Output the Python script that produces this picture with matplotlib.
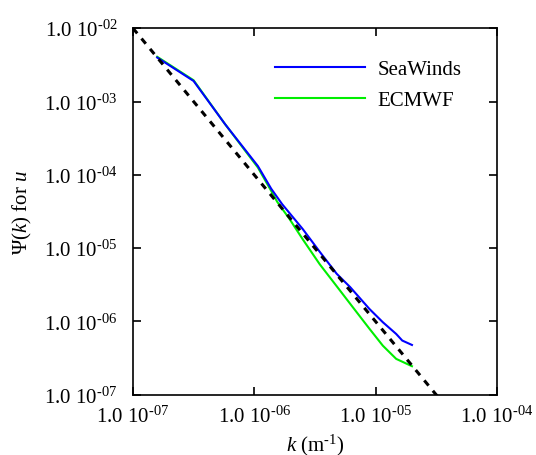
import numpy as np
import matplotlib
matplotlib.use("Agg")
import matplotlib.pyplot as plt

plt.rcParams["font.family"] = "Liberation Serif"
plt.rcParams["mathtext.fontset"] = "custom"
plt.rcParams["mathtext.rm"] = "Liberation Serif"
plt.rcParams["mathtext.it"] = "Liberation Serif:italic"

# log10 of wavenumber and spectrum
sw_logk = [-6.80, -6.50, -6.24, -5.97, -5.86, -5.77, -5.60, -5.46, -5.32,
           -5.21, -5.05, -4.94, -4.83, -4.78, -4.70]
sw_logpsi = [-2.40, -2.72, -3.31, -3.88, -4.19, -4.40, -4.74, -5.05, -5.35,
             -5.53, -5.83, -6.01, -6.17, -6.26, -6.32]

ec_logk = [-6.80, -6.50, -6.24, -5.97, -5.86, -5.81, -5.71, -5.60, -5.46,
           -5.32, -5.19, -5.05, -4.94, -4.83, -4.70]
ec_logpsi = [-2.39, -2.71, -3.31, -3.90, -4.22, -4.37, -4.60, -4.88, -5.22,
             -5.52, -5.80, -6.10, -6.33, -6.51, -6.61]

# reference k^-2 line
ref_k = [1e-7, 1e-4]
ref_psi = [1e-2, 1e-8]

xticks = [1e-7, 1e-6, 1e-5, 1e-4]
xticklabels = [r"1.0 10$^{\text{-07}}$", r"1.0 10$^{\text{-06}}$",
               r"1.0 10$^{\text{-05}}$", r"1.0 10$^{\text{-04}}$"]
yticks = [1e-7, 1e-6, 1e-5, 1e-4, 1e-3, 1e-2]
yticklabels = [r"1.0 10$^{\text{-07}}$", r"1.0 10$^{\text{-06}}$",
               r"1.0 10$^{\text{-05}}$", r"1.0 10$^{\text{-04}}$",
               r"1.0 10$^{\text{-03}}$", r"1.0 10$^{\text{-02}}$"]

fig = plt.figure(figsize=(5.36, 4.56), dpi=100)
ax = fig.add_axes([0.248, 0.132, 0.679, 0.804])

ax.plot(10 ** np.array(sw_logk), 10 ** np.array(sw_logpsi), color="#0000ff",
        lw=1.5, label="SeaWinds", zorder=3)
ax.plot(10 ** np.array(ec_logk), 10 ** np.array(ec_logpsi), color="#00ee00",
        lw=1.5, label="ECMWF", zorder=2)
ax.plot(ref_k, ref_psi, color="black", lw=2.2, ls=(0, (2.2, 2.2)), zorder=4)

ax.set_xscale("log")
ax.set_yscale("log")
ax.set_xlim(1e-7, 1e-4)
ax.set_ylim(1e-7, 1e-2)
ax.set_xticks(xticks)
ax.set_xticklabels(xticklabels)
ax.set_yticks(yticks)
ax.set_yticklabels(yticklabels)
ax.minorticks_off()
ax.tick_params(direction="in", length=6, width=1.2, top=True, right=True,
               labelsize=15)
ax.tick_params(axis="y", pad=11)
ax.tick_params(axis="x", pad=8)
for s in ax.spines.values():
    s.set_linewidth(1.2)

ax.set_xlabel(r"$k$ (m$^{\text{-1}}$)", fontsize=15, labelpad=3)
ax.set_ylabel(r"$\Psi(k)$ for $u$", fontsize=15, labelpad=7)

ax.legend(loc="upper right", frameon=False, fontsize=15, handlelength=4.3,
          handletextpad=0.6, labelspacing=0.55, bbox_to_anchor=(0.954, 0.965))

fig.savefig("out.png", dpi=100)
